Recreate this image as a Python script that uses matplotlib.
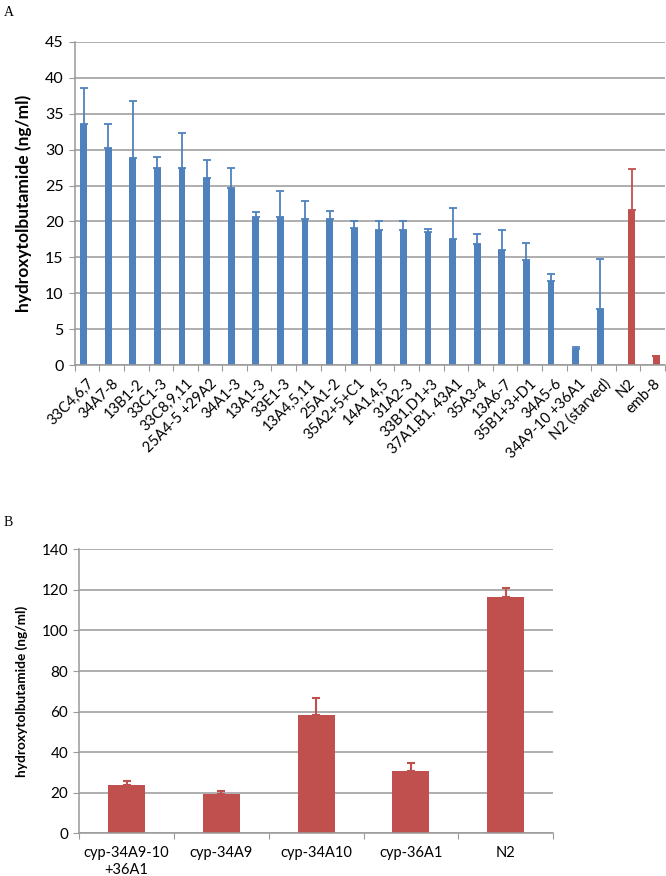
import numpy as np
import matplotlib
matplotlib.use("Agg")
import matplotlib.pyplot as plt

plt.rcParams['font.family'] = ['Lato', 'DejaVu Sans']

BLUE = "#4F81BD"
RED = "#C0504D"
GRID = "#999999"

# panel A
strains = ["33C4,6,7", "34A7-8", "13B1-2", "33C1-3", "33C8,9,11", "25A4-5 +29A2",
           "34A1-3", "13A1-3", "33E1-3", "13A4,5,11", "25A1-2", "35A2+5+C1",
           "14A1,4,5", "31A2-3", "33B1,D1+3", "37A1,B1, 43A1", "35A3-4", "13A6-7",
           "35B1+3+D1", "34A5-6", "34A9-10 +36A1", "N2 (starved)", "N2", "emb-8"]
mean_a = [33.5, 30.2, 28.8, 27.4, 27.4, 26.0, 24.6, 20.6, 20.6, 20.4, 20.4, 19.1,
          18.8, 18.8, 18.6, 17.6, 16.8, 16.0, 14.7, 11.7, 2.3, 7.8, 21.6, 1.3]
top_a = [38.5, 33.5, 36.7, 29.0, 32.3, 28.6, 27.4, 21.3, 24.3, 22.8, 21.4, 20.0,
         20.1, 20.1, 19.0, 21.9, 18.3, 18.8, 17.0, 12.7, 2.6, 14.8, 27.3, 1.3]
control_a = ["N2", "emb-8"]  # second (red) series

# panel B
genes = ["cyp-34A9-10\n+36A1", "cyp-34A9", "cyp-34A10", "cyp-36A1", "N2"]
mean_b = [23.8, 19.2, 58.3, 30.8, 116.6]
top_b = [25.9, 20.7, 66.5, 34.8, 121.0]

W, H = 666, 876
fig = plt.figure(figsize=(W / 100, H / 100), dpi=100)


def style_axis(ax, ymax, step, fs):
    ax.set_ylim(0, ymax)
    ax.set_yticks(np.arange(0, ymax + 1, step))
    ax.grid(axis="y", color=GRID, lw=1.1)
    ax.set_axisbelow(True)
    for s in ("top", "right"):
        ax.spines[s].set_visible(False)
    for s in ("left", "bottom"):
        ax.spines[s].set_color(GRID)
        ax.spines[s].set_linewidth(1.1)
    ax.tick_params(axis="y", length=4, color=GRID, labelsize=fs, pad=4)
    ax.tick_params(axis="x", which="major", length=4, color=GRID)
    ax.tick_params(axis="x", which="minor", length=0)


# ---- A
axA = fig.add_axes([74.7 / W, 1 - 365.3 / H, 590.4 / W, 323.6 / H])
n = len(strains)
x = np.arange(n)
w = 0.275
is_red = np.array([s in control_a and i >= 22 for i, s in enumerate(strains)])
mean_a = np.array(mean_a)
err_a = np.array(top_a) - mean_a
for mask, col, off in ((~is_red, BLUE, -w / 2), (is_red, RED, w / 2)):
    xs = x[mask] + off
    axA.bar(xs, mean_a[mask], w, color=col, zorder=2)
    axA.errorbar(xs, mean_a[mask], yerr=[np.zeros(mask.sum()), err_a[mask]],
                 fmt="none", ecolor=col, elinewidth=1.3, capsize=3, capthick=1.3, zorder=3)
axA.set_xlim(-0.5, n - 0.5)
style_axis(axA, 45, 5, 11.5)
axA.set_xticks(np.arange(-0.5, n, 1.0))
axA.set_xticklabels([])
axA.set_xticks(x, minor=True)
axA.set_xticklabels(strains, minor=True, rotation=45, ha="right",
                    rotation_mode="anchor", fontsize=10.5)
axA.tick_params(axis="x", which="minor", pad=8)
axA.set_ylabel("hydroxytolbutamide (ng/ml)", fontsize=12.5, fontweight="bold")
axA.yaxis.set_label_coords(-0.072, 0.5)

# ---- B
axB = fig.add_axes([79.3 / W, 1 - 833.3 / H, 473.7 / W, 284 / H])
xb = np.arange(len(genes))
mean_b = np.array(mean_b)
axB.bar(xb, mean_b, 0.39, color=RED, zorder=2)
axB.errorbar(xb, mean_b, yerr=[np.zeros(len(xb)), np.array(top_b) - mean_b],
             fmt="none", ecolor=RED, elinewidth=1.5, capsize=3, capthick=1.5, zorder=3)
axB.set_xlim(-0.5, len(genes) - 0.5)
style_axis(axB, 140, 20, 11)
axB.set_xticks(np.arange(-0.5, len(genes), 1.0))
axB.set_xticklabels([])
axB.set_xticks(xb, minor=True)
axB.set_xticklabels(genes, minor=True, fontsize=10.5, linespacing=1.25, va="top")
axB.tick_params(axis="x", which="minor", pad=9)
axB.set_ylabel("hydroxytolbutamide (ng/ml)", fontsize=9.8, fontweight="bold")
axB.yaxis.set_label_coords(-0.108, 0.5)

fig.text(4 / W, 1 - 12 / H, "A", family="Liberation Serif", fontsize=10, va="center")
fig.text(4 / W, 1 - 522 / H, "B", family="Liberation Serif", fontsize=10, va="center")

fig.savefig("out.png", dpi=100)
